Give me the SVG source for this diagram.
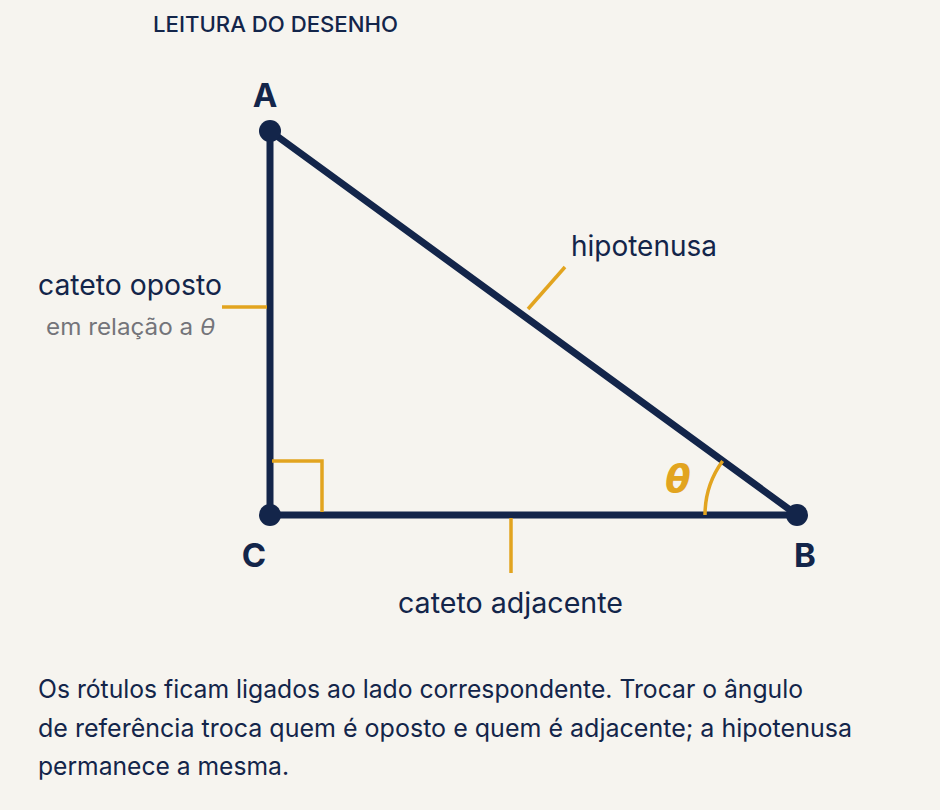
<svg xmlns="http://www.w3.org/2000/svg" width="940" height="810" viewBox="0 0 940 810">
<style>
text{font-family:Inter,"Noto Sans","Liberation Sans",sans-serif;fill:#13254a}
.side{stroke:#13254a;stroke-width:7;stroke-linecap:round;fill:none}
.acc{stroke:#e2a41f;stroke-width:3.5;fill:none}
.vtx{fill:#13254a}
.vl{font-size:33px;font-weight:700}
.lbl{font-size:28.5px}
.sub{font-size:23px;fill:#74747a}
.para{font-size:25px}
</style>
<rect width="940" height="810" fill="#f6f4ef"/>
<text x="153" y="32" font-size="22" font-weight="500" textLength="245" lengthAdjust="spacingAndGlyphs">LEITURA DO DESENHO</text>
<g id="connectors">
<line class="side" x1="270" y1="131" x2="270" y2="515"/>
<line class="side" x1="270" y1="515" x2="797" y2="515"/>
<line class="side" x1="270" y1="131" x2="797" y2="515"/>
<line class="acc" x1="222" y1="307" x2="267" y2="307"/>
<line class="acc" x1="528" y1="309" x2="565" y2="267"/>
<line class="acc" x1="511" y1="518" x2="511" y2="573"/>
</g>
<g id="right-angle"><path class="acc" d="M272 461 H322 V512"/></g>
<g id="angle-theta">
<path class="acc" d="M705 515 A92 92 0 0 1 722.6 461"/>
<text x="678" y="492" font-size="37" font-weight="700" text-anchor="middle" style="fill:#e2a41f;font-family:'DejaVu Sans','Liberation Sans',sans-serif;font-style:italic">θ</text>
</g>
<g id="vertex-A"><circle class="vtx" cx="270" cy="131" r="11"/><text class="vl" x="265" y="107" text-anchor="middle">A</text></g>
<g id="vertex-C"><circle class="vtx" cx="270" cy="515" r="11"/><text class="vl" x="254" y="567" text-anchor="middle">C</text></g>
<g id="vertex-B"><circle class="vtx" cx="797" cy="515" r="11"/><text class="vl" x="805" y="567" text-anchor="middle">B</text></g>
<g id="label-oposto"><text class="lbl" x="38" y="295" textLength="184" lengthAdjust="spacingAndGlyphs">cateto oposto</text><text class="sub" x="46" y="335" textLength="169" lengthAdjust="spacingAndGlyphs">em relação a <tspan font-style="italic">θ</tspan></text></g>
<g id="label-hipotenusa"><text class="lbl" x="571" y="256" textLength="146" lengthAdjust="spacingAndGlyphs">hipotenusa</text></g>
<g id="label-adjacente"><text class="lbl" x="398" y="613" textLength="225" lengthAdjust="spacingAndGlyphs">cateto adjacente</text></g>
<g id="caption">
<text class="para" x="38" y="698" textLength="765" lengthAdjust="spacingAndGlyphs">Os rótulos ficam ligados ao lado correspondente. Trocar o ângulo</text>
<text class="para" x="38" y="737" textLength="814" lengthAdjust="spacingAndGlyphs">de referência troca quem é oposto e quem é adjacente; a hipotenusa</text>
<text class="para" x="38" y="775" textLength="251" lengthAdjust="spacingAndGlyphs">permanece a mesma.</text>
</g>
</svg>
